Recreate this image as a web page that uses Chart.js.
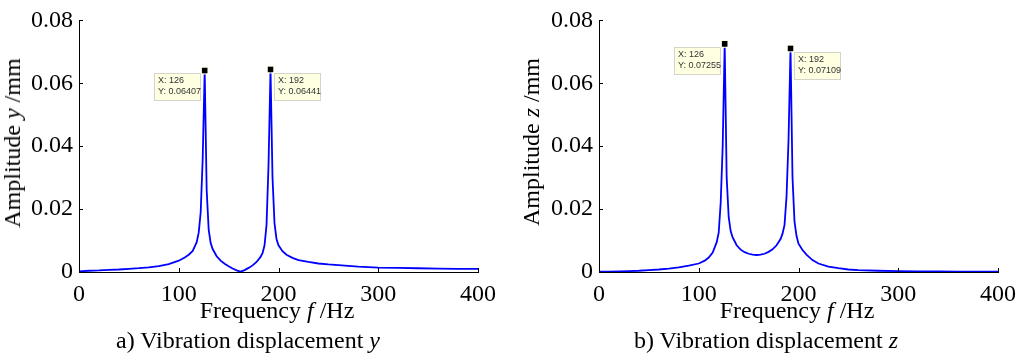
<!DOCTYPE html>
<html lang="en">
<head>
<meta charset="UTF-8">
<title>Vibration displacement</title>
<style>
  body { margin: 0; background: #fff; }
  #wrap { position: relative; width: 1030px; height: 359px; font-family: "Liberation Serif", "Times New Roman", serif; color: #000; }
  canvas { position: absolute; top: 0; }
  .lbl { position: absolute; font-size: 24px; line-height: 24px; white-space: nowrap; transform: translateX(-50%); }
  .ylbl { position: absolute; font-size: 24px; line-height: 24px; white-space: nowrap; transform: translate(-50%, -50%) rotate(-90deg); }
</style>
</head>
<body>
<div id="wrap">
  <canvas id="cy" width="515" height="359" style="left:0"></canvas>
  <canvas id="cz" width="515" height="359" style="left:515px"></canvas>
  <div class="ylbl" style="left:12px; top:143px">Amplitude <i>y</i> /mm</div>
  <div class="ylbl" style="left:531px; top:142px">Amplitude <i>z</i> /mm</div>
  <div class="lbl" style="left:277px; top:298px">Frequency <i>f</i> /Hz</div>
  <div class="lbl" style="left:797px; top:298px">Frequency <i>f</i> /Hz</div>
  <div class="lbl" style="left:248px; top:328px">a) Vibration displacement <i>y</i></div>
  <div class="lbl" style="left:766px; top:328px">b) Vibration displacement <i>z</i></div>
</div>
<script src="https://cdn.jsdelivr.net/npm/chart.js"></script>
<script>
// frequency grid (Hz)
const freq = [0, 10, 20, 30, 40, 50, 60, 70, 80, 90, 100, 106, 110, 114, 118, 120, 122, 124, 126, 128,
  130, 132, 134, 138, 142, 146, 150, 154, 158, 162, 166, 170, 174, 178, 182, 184, 186, 188, 190, 192,
  194, 196, 198, 200, 204, 208, 214, 220, 230, 240, 250, 260, 280, 300, 320, 340, 360, 380, 400];

// amplitude y (mm)
const ampY = [0.0002, 0.0004, 0.0005, 0.0007, 0.0008, 0.0010, 0.0012, 0.0015, 0.0019, 0.0025, 0.0036, 0.0046, 0.0055, 0.0067, 0.0095, 0.0125, 0.019, 0.036, 0.06407, 0.026,
  0.0135, 0.0092, 0.0073, 0.0050, 0.0036, 0.0026, 0.0018, 0.0011, 0.0005, 0.0001, 0.0006, 0.0013, 0.0021, 0.0032, 0.0048, 0.0060, 0.0085, 0.0150, 0.034, 0.06441,
  0.030, 0.0155, 0.0105, 0.0085, 0.0066, 0.0055, 0.0045, 0.0038, 0.0032, 0.0027, 0.0024, 0.0022, 0.0017, 0.0014, 0.0013, 0.0012, 0.0011, 0.0010, 0.0010];

// amplitude z (mm)
const ampZ = [0.0001, 0.0001, 0.0002, 0.0003, 0.0004, 0.0006, 0.0008, 0.0011, 0.0015, 0.0020, 0.0027, 0.0036, 0.0046, 0.0062, 0.0095, 0.0125, 0.022, 0.040, 0.07255, 0.030,
  0.0175, 0.0130, 0.0110, 0.0085, 0.0071, 0.0063, 0.0058, 0.0055, 0.0054, 0.0055, 0.0058, 0.0064, 0.0072, 0.0085, 0.0105, 0.0122, 0.0150, 0.024, 0.042, 0.07109,
  0.030, 0.0160, 0.0115, 0.0090, 0.0070, 0.0055, 0.0038, 0.0027, 0.0017, 0.0012, 0.0008, 0.0006, 0.0004, 0.0003, 0.0002, 0.0002, 0.0001, 0.0001, 0.0001];

const xTicks = [0, 100, 200, 300, 400];
const yTicks = [0, 0.02, 0.04, 0.06, 0.08];

// data tips at the peaks
const tipX = [126, 192];
const tipY_y = [0.06407, 0.06441];
const tipY_z = [0.07255, 0.07109];
const tipSide = ['left', 'right'];

const serif = { family: '"Liberation Serif", "Times New Roman", serif', size: 24 };

// inward tick marks + MATLAB-like datatips
const extras = {
  id: 'extras',
  afterDraw(chart, args, opts) {
    const ctx = chart.ctx, xs = chart.scales.x, ys = chart.scales.y;
    const a = chart.chartArea;
    ctx.save();
    ctx.strokeStyle = '#000';
    ctx.lineWidth = 1;
    ctx.beginPath();
    xs.ticks.forEach(t => {
      const px = Math.round(xs.getPixelForValue(t.value)) + 0.5;
      ctx.moveTo(px, a.bottom); ctx.lineTo(px, a.bottom - 4);
    });
    ys.ticks.forEach(t => {
      const py = Math.round(ys.getPixelForValue(t.value)) + 0.5;
      ctx.moveTo(a.left, py); ctx.lineTo(a.left + 4, py);
    });
    ctx.stroke();

    opts.tips.forEach((tp, i) => {
      const px = xs.getPixelForValue(tp.x), py = ys.getPixelForValue(tp.y);
      const w = 46, h = 27;
      const bx = tp.side === 'left' ? px - 5 - w : px + 3;
      const by = py + (tp.side === 'left' ? 3 : 4);
      ctx.fillStyle = '#ffffe1';
      ctx.fillRect(Math.round(bx) + 0.5, Math.round(by) + 0.5, w, h);
      ctx.strokeStyle = '#d4d4c8';
      ctx.strokeRect(Math.round(bx) + 0.5, Math.round(by) + 0.5, w, h);
      ctx.fillStyle = '#333';
      ctx.font = '9px Arial, "Liberation Sans", sans-serif';
      ctx.textBaseline = 'middle';
      ctx.textAlign = 'left';
      ctx.fillText('X: ' + tp.x, Math.round(bx) + 4, Math.round(by) + 8);
      ctx.fillText('Y: ' + tp.y.toFixed(5), Math.round(bx) + 4, Math.round(by) + 18.5);
      ctx.fillStyle = '#000';
      ctx.strokeStyle = '#ffffe1';
      ctx.fillRect(px - 3, py - 3, 6, 6);
      ctx.strokeRect(px - 3.5, py - 3.5, 7, 7);
    });
    ctx.restore();
  }
};

function makeChart(id, values, tipVals, yWidth, pad) {
  const tips = tipX.map((x, i) => ({ x: x, y: tipVals[i], side: tipSide[i] }));
  return new Chart(document.getElementById(id), {
    type: 'line',
    data: {
      datasets: [{
        data: freq.map((f, i) => ({ x: f, y: values[i] })),
        borderColor: '#0000ff',
        borderWidth: 1.8,
        pointRadius: 0,
        tension: 0,
        fill: false
      }]
    },
    options: {
      responsive: false,
      animation: false,
      layout: { padding: pad },
      plugins: { legend: { display: false }, tooltip: { enabled: false }, extras: { tips: tips } },
      scales: {
        x: {
          type: 'linear', min: 0, max: 400,
          afterBuildTicks: s => { s.ticks = xTicks.map(v => ({ value: v })); },
          afterFit: s => { s.height = 87; },
          ticks: { color: '#000', font: serif, padding: 8, maxRotation: 0, autoSkip: false, callback: v => String(v) },
          grid: { display: true, drawOnChartArea: false, drawTicks: false },
          border: { display: true, color: '#000', width: 1 }
        },
        y: {
          type: 'linear', min: 0, max: 0.08,
          afterBuildTicks: s => { s.ticks = yTicks.map(v => ({ value: v })); },
          afterFit: s => { s.width = yWidth; },
          ticks: { color: '#000', font: serif, padding: 6, callback: v => v === 0 ? '0' : v.toFixed(2) },
          grid: { display: true, drawOnChartArea: false, drawTicks: false },
          border: { display: true, color: '#000', width: 1 }
        }
      }
    },
    plugins: [extras]
  });
}

makeChart('cy', ampY, tipY_y, 79, { top: 14, right: 37, bottom: 0, left: 0 });
makeChart('cz', ampZ, tipY_z, 84, { top: 13, right: 32, bottom: 0, left: 0 });
</script>
</body>
</html>
